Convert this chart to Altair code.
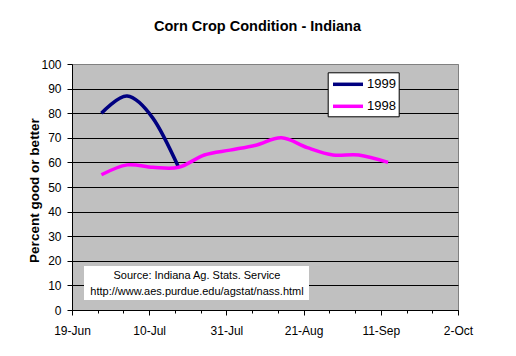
import altair as alt
import pandas as pd

# ---- data ----
dates_1999 = ["1999-06-27", "1999-07-04", "1999-07-11", "1999-07-18"]
values_1999 = [80, 87, 78, 58]

dates_1998 = ["1999-06-27", "1999-07-04", "1999-07-11", "1999-07-18",
              "1999-07-25", "1999-08-01", "1999-08-08", "1999-08-15",
              "1999-08-22", "1999-08-29", "1999-09-05", "1999-09-13"]
values_1998 = [55, 59, 58, 58, 63, 65, 67, 70, 66, 63, 63, 60]

series_names = ["1999", "1998"]
series_colors = ["#000080", "#FF00FF"]

y_ticks = [0, 10, 20, 30, 40, 50, 60, 70, 80, 90, 100]
x_tick_dates = ["1999-06-19", "1999-06-26", "1999-07-03", "1999-07-10",
                "1999-07-17", "1999-07-24", "1999-07-31", "1999-08-07",
                "1999-08-14", "1999-08-21", "1999-08-28", "1999-09-04",
                "1999-09-11", "1999-09-18", "1999-09-25", "1999-10-02"]

title_text = "Corn Crop Condition - Indiana"
y_title = "Percent good or better"
source_lines = ["Source: Indiana Ag. Stats. Service",
                "http://www.aes.purdue.edu/agstat/nass.html"]

FONT = "Liberation Sans"


def dt(s):
    y, m, d = (int(p) for p in s.split("-"))
    return alt.DateTime(year=y, month=m, date=d, utc=True)


df = pd.DataFrame({
    "date": dates_1999 + dates_1998,
    "value": values_1999 + values_1998,
    "series": [series_names[0]] * len(dates_1999) + [series_names[1]] * len(dates_1998),
})

major_test = "round((datum.value - utc(1999,5,19)) / 604800000) % 3 == 0"

x_enc = alt.X(
    "date:T",
    scale=alt.Scale(type="utc", domain=[dt(x_tick_dates[0]), dt(x_tick_dates[-1])]),
    axis=alt.Axis(
        title=None,
        values=[dt(s) for s in x_tick_dates],
        labelExpr=f"({major_test}) ? utcFormat(datum.value, '%-d-%b') : ''",
        tickSize={"condition": {"test": major_test, "value": 5}, "value": 3},
        grid=False,
        domainColor="black",
        tickColor="black",
        labelColor="black",
        labelFont=FONT,
        labelFontSize=12,
        labelPadding=10,
        labelFlush=False,
        labelOverlap=False,
    ),
)

y_enc = alt.Y(
    "value:Q",
    scale=alt.Scale(domain=[0, 100], nice=False, zero=True),
    axis=alt.Axis(
        title=y_title,
        values=y_ticks,
        grid=True,
        gridColor={"condition": {"test": "datum.value == 100", "value": "#808080"}, "value": "black"},
        gridWidth=1,
        domainColor="black",
        tickColor="black",
        tickSize=5,
        labelColor="black",
        labelFont=FONT,
        labelFontSize=12,
        labelPadding=6,
        titleFont=FONT,
        titleFontSize=13.5,
        titleFontWeight="bold",
        titleColor="black",
        titleAngle=-90,
        titleX=-34,
        titleY=126,
        titleAlign="center",
        titleBaseline="alphabetic",
    ),
)

lines = alt.Chart(df).mark_line(
    interpolate="cardinal", strokeWidth=3.5
).encode(
    x=x_enc,
    y=y_enc,
    color=alt.Color(
        "series:N",
        scale=alt.Scale(domain=series_names, range=series_colors),
        legend=alt.Legend(
            title=None,
            orient="none",
            legendX=255.7,
            legendY=8.3,
            fillColor="white",
            strokeColor="black",
            padding=2.5,
            cornerRadius=0,
            symbolType="M-2,0H2",
            symbolSize=225,
            symbolStrokeWidth=3.5,
            symbolOffset=8.3,
            labelOffset=9.5,
            rowPadding=5,
            labelFont=FONT,
            labelFontSize=13,
            labelColor="black",
        ),
    ),
)

box_df = pd.DataFrame({"k": [0]})
source_box = alt.Chart(box_df).mark_rect(color="white").encode(
    x=alt.value(12), x2=alt.value(237), y=alt.value(202), y2=alt.value(236)
)
source_text = alt.Chart(box_df).mark_text(
    font=FONT, fontSize=11, color="black", align="center",
    baseline="alphabetic", lineBreak="\n", lineHeight=16,
).encode(
    x=alt.value(125), y=alt.value(215), text=alt.value("\n".join(source_lines))
)

chart = alt.layer(lines, source_box, source_text).properties(
    width=386,
    height=246,
    title=alt.TitleParams(
        title_text, font=FONT, fontSize=14.5, fontWeight="bold", color="black",
        anchor="middle", frame="group", dx=-7.5, offset=24,
    ),
    autosize=alt.AutoSizeParams(type="none"),
    padding={"left": 64, "top": 56, "right": 50, "bottom": 38},
    background="white",
).configure_view(
    fill="#C0C0C0", stroke="#808080", strokeWidth=1
)

chart.save("out.html", embed_options={"renderer": "svg", "actions": False})
